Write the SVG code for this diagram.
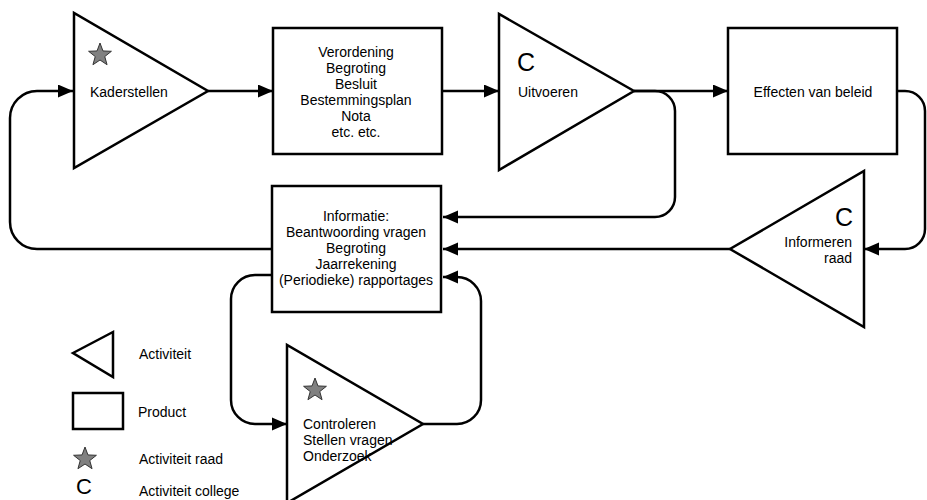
<svg xmlns="http://www.w3.org/2000/svg" width="927" height="500" viewBox="0 0 927 500">
<style>
.shape{fill:#fff;stroke:#000;stroke-width:2.5;stroke-linejoin:miter}
.conn{fill:none;stroke:#000;stroke-width:2.5}
.t{font-family:"Liberation Sans",Arial,sans-serif;font-size:14px;fill:#000}
.c{font-family:"Liberation Sans",Arial,sans-serif;font-size:25px;fill:#000}
.mid{text-anchor:middle}
.end{text-anchor:end}
.star{fill:#808080;stroke:#333;stroke-width:1}
</style>
<defs>
<marker id="arr" markerUnits="userSpaceOnUse" markerWidth="15" markerHeight="14" refX="15" refY="6.5" orient="auto">
<path d="M0,0 L15,6.5 L0,13 z" fill="#000"/>
</marker>
<path id="starShape" d="M0,-12 L2.94,-4.05 L11.41,-3.71 L4.76,1.55 L7.05,9.71 L0,5 L-7.05,9.71 L-4.76,1.55 L-11.41,-3.71 L-2.94,-4.05 Z"/>
</defs>

<g id="connectors">
<path class="conn" d="M208,91 L273,91" marker-end="url(#arr)"/>
<path class="conn" d="M442,91 L499,91" marker-end="url(#arr)"/>
<path class="conn" d="M634,91 L728,91" marker-end="url(#arr)"/>
<path class="conn" d="M634,91 L655,91 A20,20 0 0 1 675,111 L675,197 A20,20 0 0 1 655,217 L443,217" marker-end="url(#arr)"/>
<path class="conn" d="M897,91 L905,91 A20,20 0 0 1 925,111 L925,229 A20,20 0 0 1 905,249 L864,249" marker-end="url(#arr)"/>
<path class="conn" d="M730,249 L443,249" marker-end="url(#arr)"/>
<path class="conn" d="M272,249 L37,249 A27,27 0 0 1 10,222 L10,118 A27,27 0 0 1 37,91 L73,91" marker-end="url(#arr)"/>
<path class="conn" d="M272,275 L255,275 A24,24 0 0 0 231,299 L231,400 A24,24 0 0 0 255,424 L287,424" marker-end="url(#arr)"/>
<path class="conn" d="M423,424 L457,424 A24,24 0 0 0 481,400 L481,301 A24,24 0 0 0 457,277 L443,277" marker-end="url(#arr)"/>
</g>

<g id="kaderstellen">
<polygon class="shape" points="74,13 74,168 208,91"/>
<use href="#starShape" class="star" transform="translate(100,55)"/>
<text class="t" x="90" y="97">Kaderstellen</text>
</g>

<g id="product-besluiten">
<rect class="shape" x="273" y="28" width="169" height="126"/>
<text class="t mid" x="356" y="57">Verordening</text>
<text class="t mid" x="356" y="73">Begroting</text>
<text class="t mid" x="356" y="89">Besluit</text>
<text class="t mid" x="356" y="105">Bestemmingsplan</text>
<text class="t mid" x="356" y="121">Nota</text>
<text class="t mid" x="356" y="137">etc. etc.</text>
</g>

<g id="uitvoeren">
<polygon class="shape" points="499,14 499,170 634,91"/>
<text class="c" x="517" y="71">C</text>
<text class="t" x="518" y="97">Uitvoeren</text>
</g>

<g id="effecten">
<rect class="shape" x="728" y="28" width="169" height="126"/>
<text class="t mid" x="813" y="97">Effecten van beleid</text>
</g>

<g id="informeren">
<polygon class="shape" points="864,171 864,327 730,249"/>
<text class="c end" x="853" y="226">C</text>
<text class="t end" x="852" y="247">Informeren</text>
<text class="t end" x="852" y="263">raad</text>
</g>

<g id="informatie">
<rect class="shape" x="272" y="186" width="169" height="126"/>
<text class="t mid" x="356" y="221">Informatie:</text>
<text class="t mid" x="356" y="237">Beantwoording vragen</text>
<text class="t mid" x="356" y="253">Begroting</text>
<text class="t mid" x="356" y="269">Jaarrekening</text>
<text class="t mid" x="356" y="285">(Periodieke) rapportages</text>
</g>

<g id="controleren">
<polygon class="shape" points="287,345 287,503 423,424"/>
<use href="#starShape" class="star" transform="translate(315,390)"/>
<text class="t" x="303" y="429">Controleren</text>
<text class="t" x="303" y="445">Stellen vragen</text>
<text class="t" x="303" y="461">Onderzoek</text>
</g>

<g id="legend">
<polygon class="shape" points="73,353 113,332 113,377"/>
<text class="t" x="139" y="359">Activiteit</text>
<rect class="shape" x="73" y="393" width="50" height="36"/>
<text class="t" x="138" y="417">Product</text>
<use href="#starShape" class="star" transform="translate(85,459)"/>
<text class="t" x="139" y="464">Activiteit raad</text>
<text class="c" x="76" y="494" style="font-size:22px">C</text>
<text class="t" x="139" y="496">Activiteit college</text>
</g>
</svg>
